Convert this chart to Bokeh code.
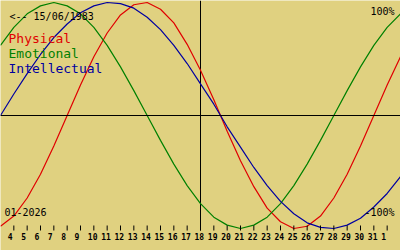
from bokeh.plotting import figure
from bokeh.models import Range1d, Span, ColumnDataSource
from bokeh.embed import file_html
from bokeh.resources import INLINE
from bokeh.core.properties import value

# ---------------- data ----------------
birth_label = "<-- 15/06/1983"
month_label = "01-2026"
top_label = "100%"
bottom_label = "-100%"
series_names = ["Physical", "Emotional", "Intellectual"]
series_colors = ["#e00000", "#008000", "#0000a0"]

# day of January 2026 (32 = 1 Feb, 33 = 2 Feb)
days = list(range(3, 34))
physical = [-98, -89, -73, -52, -27, 0, 27, 52, 73, 89, 98, 100, 94, 82, 63, 40,
            14, -14, -40, -63, -82, -94, -100, -98, -89, -73, -52, -27, 0, 27, 52]
emotional = [62, 78, 90, 97, 100, 97, 90, 78, 62, 43, 22, 0, -22, -43, -62, -78,
             -90, -97, -100, -97, -90, -78, -62, -43, -22, 0, 22, 43, 62, 78, 90]
intellectual = [0, 19, 37, 54, 69, 81, 91, 97, 100, 99, 95, 87, 76, 62, 46, 28,
                10, -10, -28, -46, -62, -76, -87, -95, -99, -100, -97, -91, -81, -69, -54]

tick_days = list(range(4, 33))
tick_labels = ["4", "5", "6", "7", "8", "9", "10", "11", "12", "13", "14", "15", "16",
               "17", "18", "19", "20", "21", "22", "23", "24", "25", "26", "27", "28",
               "29", "30", "31", "1"]
center_day = 18

# ---------------- layout ----------------
W, H = 400, 250
BG = "#e0d180"
FONT = "DejaVu Sans Mono"
X_START, X_END = 3, 33
Y_ZERO_PX = 115.0
PX_PER_PCT = 1.13
TS = -5  # text baseline correction (px)


def py(px):
    return (Y_ZERO_PX - px) / PX_PER_PCT


p = figure(width=W, height=H,
           x_range=Range1d(X_START, X_END),
           y_range=Range1d(py(H), py(0)),
           output_backend="svg", toolbar_location=None,
           min_border=0, min_border_left=0, min_border_right=0,
           min_border_top=0, min_border_bottom=0,
           x_axis_location=None, y_axis_location=None,
           background_fill_color=BG, border_fill_color=BG,
           outline_line_color=None)
p.grid.visible = False

# axes lines
p.add_layout(Span(location=0, dimension="width", line_color="black", line_width=1))
p.segment(x0=[center_day], y0=[py(0)], x1=[center_day], y1=[py(230)],
          line_color="black", line_width=1)

# curves
for vals, col in zip([physical, emotional, intellectual], series_colors):
    p.line(days, vals, line_color=col, line_width=1.2)

# ticks + labels
p.segment(x0=tick_days, y0=[py(225)] * len(tick_days), x1=tick_days,
          y1=[py(230)] * len(tick_days), line_color="black", line_width=1)
p.text(x=tick_days, y=[py(241 + TS)] * len(tick_days), text=tick_labels,
       x_offset=-6, text_align="left", text_baseline="alphabetic",
       text_font=value(FONT), text_font_size="8px", text_font_style="bold",
       text_color="black")

# texts
p.text(x=[X_START], y=[py(20.5 + TS)], text=[birth_label], x_offset=9,
       text_align="left", text_baseline="alphabetic",
       text_font=value(FONT), text_font_size="10px", text_color="black")
for i, (name, col) in enumerate(zip(series_names, series_colors)):
    p.text(x=[X_START], y=[py(43 + 15 * i + TS)], text=[name], x_offset=8,
           text_align="left", text_baseline="alphabetic",
           text_font=value(FONT), text_font_size="13px", text_color=col)
p.text(x=[X_END], y=[py(16 + TS)], text=[top_label], x_offset=-6,
       text_align="right", text_baseline="alphabetic",
       text_font=value(FONT), text_font_size="10px", text_color="black")
p.text(x=[X_END], y=[py(217 + TS)], text=[bottom_label], x_offset=-6,
       text_align="right", text_baseline="alphabetic",
       text_font=value(FONT), text_font_size="10px", text_color="black")
p.text(x=[X_START], y=[py(216 + TS)], text=[month_label], x_offset=4,
       text_align="left", text_baseline="alphabetic",
       text_font=value(FONT), text_font_size="10px", text_color="black")

open("out.html", "w").write(file_html(p, INLINE))
